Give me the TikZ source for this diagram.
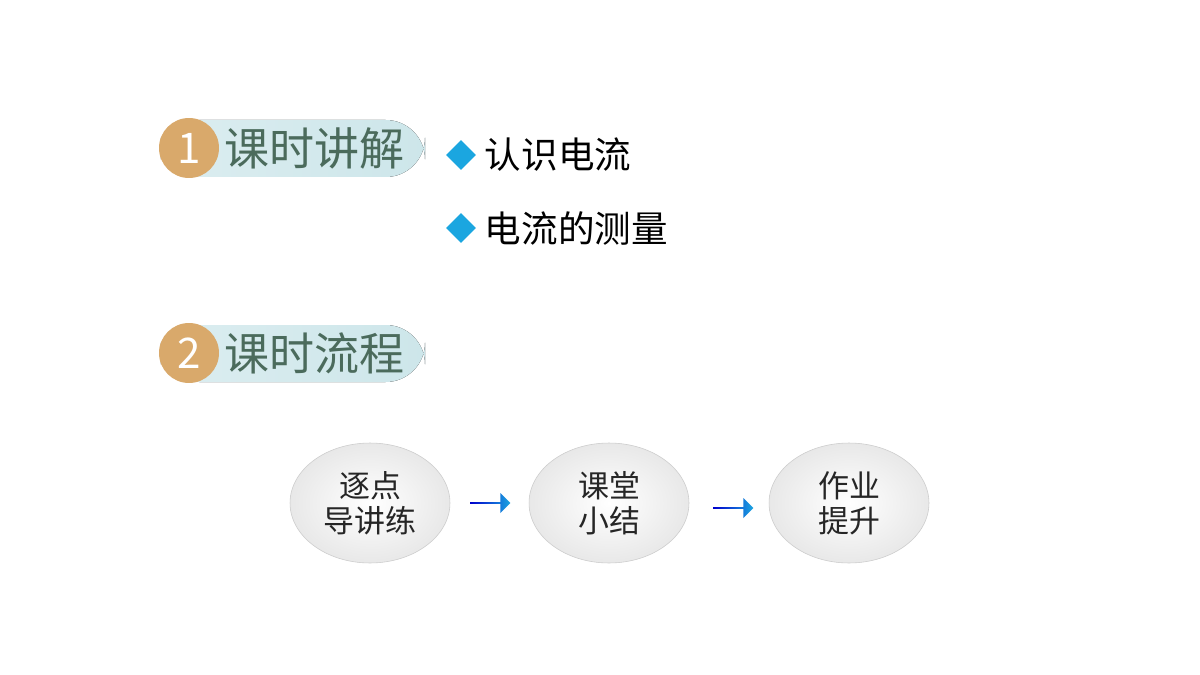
\documentclass[tikz,border=0pt]{standalone}
\usepackage{fontspec}
\newfontfamily\cjk{Noto Sans CJK SC}
\usetikzlibrary{shapes.geometric,shapes.arrows,shadows}
\definecolor{pillblue}{HTML}{CDE6EA}
\definecolor{badgegold}{HTML}{D9A96B}
\definecolor{titlegreen}{HTML}{4B6B5C}
\definecolor{diamondblue}{HTML}{1BA6E0}
\tikzset{
  pill/.style={rounded corners=28pt,left color=pillblue!70,right color=pillblue,minimum height=57pt*0.711,draw=none},
  badge/.style={circle,fill=badgegold,minimum size=60*0.711pt,text=white,font=\cjk\fontsize{30}{30}\selectfont,inner sep=0pt},
  heading/.style={font=\cjk\fontsize{32}{32}\selectfont,text=titlegreen,anchor=west},
  bullet/.style={diamond,fill=diamondblue,minimum size=30*0.711pt,inner sep=0pt},
  item/.style={font=\cjk\fontsize{26}{26}\selectfont,anchor=west},
  stepoval/.style={ellipse,minimum width=160*0.711pt,minimum height=120*0.711pt,draw=gray!40,
    inner color=white,outer color=gray!18,font=\cjk\fontsize{22}{25}\selectfont,align=center,text=black!85},
  flowarrow/.style={single arrow,minimum height=40*0.711pt,minimum width=20*0.711pt,single arrow head extend=2pt,
    inner sep=0pt,left color=blue!80!black,right color=diamondblue,draw=none}
}
\begin{document}
\begin{tikzpicture}[x=0.025cm,y=-0.025cm]
  \useasboundingbox[fill=white] (0,0) rectangle (1200,675);

  % section 1
  \fill[pill] (160,120) rectangle (425,177);
  \node[badge] (b1) at (189,148) {1};
  \node[heading] (h1) at (220,148) {课时讲解};
  \node[bullet] (d1) at (461,155) {};
  \node[item] (i1) at (480,155) {认识电流};
  \node[bullet] (d2) at (461,228) {};
  \node[item] (i2) at (480,228) {电流的测量};

  % section 2
  \fill[pill] (160,325) rectangle (425,382);
  \node[badge] (b2) at (189,353) {2};
  \node[heading] (h2) at (220,353) {课时流程};

  % flow
  \node[stepoval] (s1) at (370,503) {逐点\\导讲练};
  \node[stepoval] (s2) at (609,503) {课堂\\小结};
  \node[stepoval] (s3) at (849,503) {作业\\提升};
  \node[flowarrow] (a1) at (490,503) {};
  \node[flowarrow] (a2) at (733,508) {};
\end{tikzpicture}
\end{document}
